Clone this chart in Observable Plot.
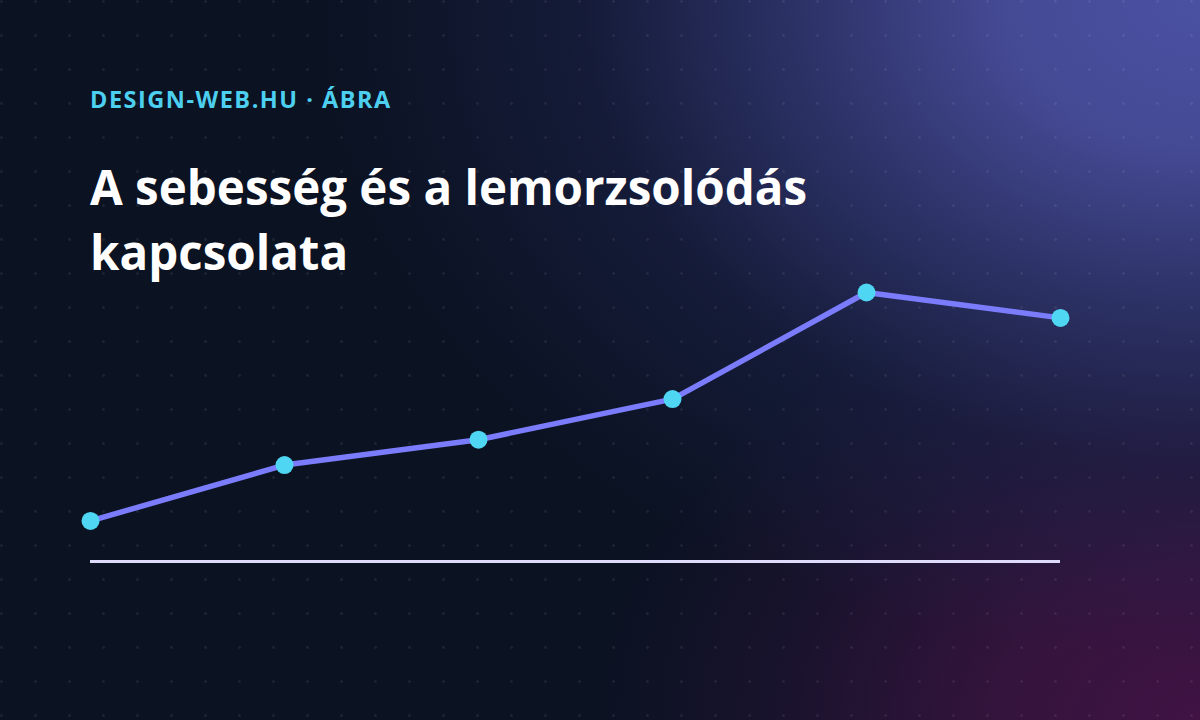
<!DOCTYPE html>
<html>
<head>
<meta charset="utf-8">
<script src="https://cdn.jsdelivr.net/npm/d3@7"></script>
<script src="https://cdn.jsdelivr.net/npm/@observablehq/plot@0.6"></script>
<style>
  html, body { margin: 0; padding: 0; }
  body { width: 1200px; height: 720px; overflow: hidden; }
  #card {
    position: relative; width: 1200px; height: 720px; overflow: hidden;
    background:
      radial-gradient(ellipse 880px 660px at 1200px 0px, rgba(75,81,162,1) 0%, rgba(72,77,155,0.95) 22%, rgba(58,63,130,0.72) 45%, rgba(36,42,92,0.38) 70%, rgba(11,18,34,0) 100%),
      radial-gradient(ellipse 600px 440px at 1200px 720px, rgba(64,19,68,1) 0%, rgba(58,20,64,0.85) 35%, rgba(42,20,58,0.45) 70%, rgba(11,18,34,0) 100%),
      #0b1222;
  }
  #dots {
    position: absolute; inset: 0;
    background-image: radial-gradient(circle at 1.5px 1.5px, rgba(255,255,255,0.07) 1.1px, transparent 1.6px);
    background-size: 34px 34px;
  }
  #kicker {
    position: absolute; left: 90px; top: 83px;
    font-family: "Open Sans", sans-serif; font-weight: 700; font-size: 23.5px;
    line-height: normal; color: #4dcff0; letter-spacing: 1.5px; white-space: nowrap;
  }
  #title {
    position: absolute; left: 90px; top: 154px; width: 820px;
    font-family: "Open Sans", sans-serif; font-weight: 700; font-size: 47.5px;
    line-height: 65px; color: #ffffff;
  }
  #chart { position: absolute; left: 0; top: 0; }
</style>
</head>
<body>
<div id="card">
  <div id="dots"></div>
  <div id="kicker">DESIGN-WEB.HU · ÁBRA</div>
  <div id="title">A sebesség és a lemorzsolódás<br>kapcsolata</div>
  <div id="chart"></div>
</div>
<script>
const categories = ["1 s", "2 s", "3 s", "4 s", "5 s", "6 s"];
const values = [8, 19, 24, 32, 53, 48];
const yDomain = [0, 53];

const data = categories.map((c, i) => ({ cat: c, value: values[i] }));

const chart = Plot.plot({
  width: 1200,
  height: 720,
  marginLeft: 90,
  marginRight: 140,
  marginTop: 292,
  marginBottom: 159,
  style: { background: "transparent", overflow: "visible" },
  x: { type: "point", domain: categories, padding: 0, axis: null },
  y: { domain: yDomain, axis: null },
  marks: [
    Plot.ruleY([0], { stroke: "#dedcfa", strokeWidth: 3 }),
    Plot.line(data, { x: "cat", y: "value", stroke: "#7b7cfb", strokeWidth: 5.5, curve: "linear" }),
    Plot.dot(data, { x: "cat", y: "value", r: 9, fill: "#4fd6f2", stroke: "none" })
  ]
});
document.getElementById("chart").appendChild(chart);
</script>
</body>
</html>
